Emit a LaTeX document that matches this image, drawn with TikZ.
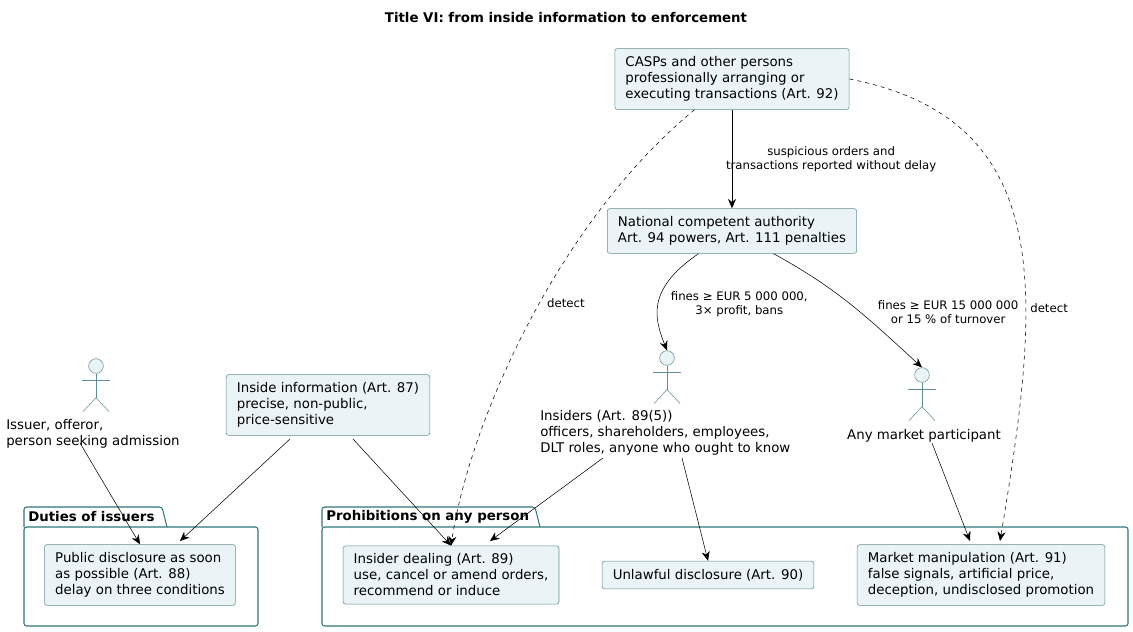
\documentclass[tikz,border=0pt]{standalone}
\usepackage{fontspec}
\setmainfont{DejaVu Sans}
\usetikzlibrary{arrows.meta,positioning}
\definecolor{boxfill}{HTML}{EAF3F5}
\definecolor{boxline}{HTML}{5F8F94}
\definecolor{pkgline}{HTML}{2F7579}
\tikzstyle{box} = [rectangle, draw=boxline, fill=boxfill, rounded corners=2pt, align=left, inner xsep=8pt, inner ysep=6pt, font=\fontsize{10}{12}\selectfont]
\tikzstyle{pkg} = [draw=pkgline, thick, rounded corners=2pt]
\tikzstyle{line} = [draw, -{Stealth[length=7pt,width=6pt]}]
\tikzstyle{lbl} = [font=\fontsize{8.8}{10.5}\selectfont, align=center]
\tikzstyle{actlbl} = [font=\fontsize{10}{12}\selectfont, align=left, inner sep=0pt]
\newcommand{\stick}[2]{% name, position of head
  \node (#1) [circle, draw=boxline, fill=boxfill, minimum size=11pt, inner sep=0pt] at #2 {};
  \draw[boxline] (#1.south) -- ++(0,24) coordinate (#1-hip);
  \draw[boxline] (#1.south) ++(-14,7) -- ++(28,0);
  \draw[boxline] (#1-hip) ++(-13,14) -- (#1-hip) -- ++(13,14);
}
\begin{document}
\begin{tikzpicture}[x=0.75pt, y=-0.75pt]
        \useasboundingbox (0,0) rectangle (1133,632);
        \node (title) at (566,18) {\fontsize{10}{12}\selectfont\bfseries Title VI: from inside information to enforcement};

        % packages
        \draw [pkg] (24,527) rectangle (258,626);
        \draw [pkg] (24,527) -- (24,507) -- (162,507) -- (167,527);
        \node [anchor=west, font=\fontsize{10}{12}\selectfont\bfseries, inner sep=0pt] at (28,517) {Duties of issuers};
        \draw [pkg] (322,527) rectangle (1128,626);
        \draw [pkg] (322,527) -- (322,507) -- (535,507) -- (540,527);
        \node [anchor=west, font=\fontsize{10}{12}\selectfont\bfseries, inner sep=0pt] at (326,517) {Prohibitions on any person};

        \node (Casps) [box] at (732,79) {CASPs and other persons\\professionally arranging or\\executing transactions (Art. 92)};
        \node (Nca) [box] at (732,231) {National competent authority\\Art. 94 powers, Art. 111 penalties};
        \node (Inside) [box] at (328,405) {Inside information (Art. 87)\\precise, non-public,\\price-sensitive};
        \node (Public) [box] at (140,575) {Public disclosure as soon\\as possible (Art. 88)\\delay on three conditions};
        \node (Dealing) [box] at (451,575) {Insider dealing (Art. 89)\\use, cancel or amend orders,\\recommend or induce};
        \node (Unlawful) [box] at (708,575) {Unlawful disclosure (Art. 90)};
        \node (Manip) [box] at (981,575) {Market manipulation (Art. 91)\\false signals, artificial price,\\deception, undisclosed promotion};

        % actors
        \stick{Issuer}{(96,366)}
        \node (IssuerL) [actlbl, anchor=north west] at (6,419) {Issuer, offeror,\\person seeking admission};
        \stick{Insiders}{(667,358)}
        \node (InsidersL) [actlbl, anchor=north west] at (540,410) {Insiders (Art. 89(5))\\officers, shareholders, employees,\\DLT roles, anyone who ought to know};
        \stick{Market}{(922,375)}
        \node (MarketL) [actlbl, anchor=north] at (924,429) {Any market participant};

        % connectors
        \path [line] (Casps) -- node [lbl, right, xshift=-8pt] {suspicious orders and\\transactions reported without delay} (Nca);
        \path [line] (Nca) .. controls (645,290) and (655,320) .. node [lbl, pos=0.5, right=6pt] {fines ≥ EUR 5 000 000,\\3× profit, bans} (Insiders.north);
        \path [line] (Nca) .. controls (840,290) and (870,320) .. node [lbl, pos=0.55, right=10pt] {fines ≥ EUR 15 000 000\\or 15 \% of turnover} (Market.north);
        \path [line, dashed] (Casps) .. controls (560,220) and (470,420) .. node [lbl, pos=0.46, right=2pt] {detect} (Dealing.north);
        \path [line, dashed] (Casps.east) .. controls (1060,120) and (1040,300) .. node [lbl, pos=0.64, right=0pt] {detect} (1000,541);
        \coordinate (iss) at (80,443);
        \path [line] (iss) -- (Public.north);
        \coordinate (in1) at (290,439);
        \path [line] (in1) -- (180,541);
        \coordinate (in2) at (353,439);
        \path [line] (in2) -- (Dealing.north);
        \coordinate (ins1) at (603,458);
        \path [line] (ins1) -- (490,541);
        \coordinate (ins2) at (682,458);
        \path [line] (ins2) -- (Unlawful.north);
        \coordinate (mk) at (932,443);
        \path [line] (mk) -- (970,541);
    \end{tikzpicture}
\end{document}
